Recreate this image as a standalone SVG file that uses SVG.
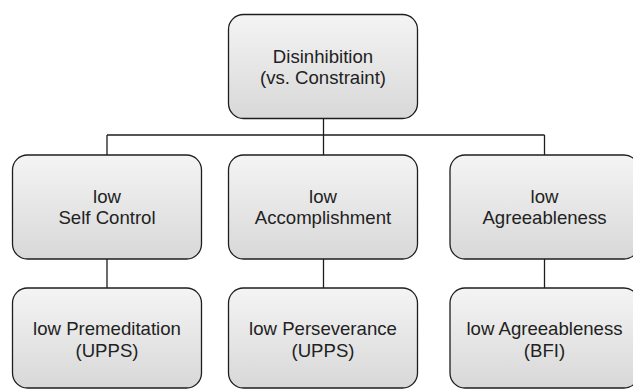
<svg xmlns="http://www.w3.org/2000/svg" width="633" height="389" viewBox="0 0 633 389">
<style>
.box{fill:url(#g);stroke:#1e1e1e;stroke-width:1.3}
.t{font-family:"Liberation Sans",Arial,sans-serif;font-size:18.6px;fill:#222;text-anchor:middle}
.c{fill:none;stroke:#1e1e1e;stroke-width:1.3}
</style>
<defs>
<linearGradient id="g" x1="0" y1="0" x2="0" y2="1">
<stop offset="0" stop-color="#f4f4f4"/>
<stop offset="1" stop-color="#d8d8d8"/>
</linearGradient>
</defs>
<rect width="633" height="389" fill="#fff"/>
<g id="connectors">
<path class="c" d="M323.5 118V135M107 135H544.5M107 135V155M323.5 135V155M544.5 135V155"/>
<path class="c" d="M107 259V288M323.5 259V288M544.5 259V288"/>
</g>
<g id="n-root">
<rect class="box" x="228.5" y="14.5" width="189" height="104" rx="15"/>
<text class="t" x="323" y="63">Disinhibition</text>
<text class="t" x="323" y="84">(vs. Constraint)</text>
</g>
<g id="n-selfcontrol">
<rect class="box" x="12.5" y="155" width="189" height="104" rx="15"/>
<text class="t" x="107" y="203">low</text>
<text class="t" x="107" y="224">Self Control</text>
</g>
<g id="n-accomplishment">
<rect class="box" x="228.5" y="155" width="189" height="104" rx="15"/>
<text class="t" x="323" y="203">low</text>
<text class="t" x="323" y="224">Accomplishment</text>
</g>
<g id="n-agreeableness">
<rect class="box" x="450" y="155" width="189" height="104" rx="15"/>
<text class="t" x="544.5" y="203">low</text>
<text class="t" x="544.5" y="224">Agreeableness</text>
</g>
<g id="n-premeditation">
<rect class="box" x="12.5" y="288" width="189" height="100" rx="15"/>
<text class="t" x="107" y="335">low Premeditation</text>
<text class="t" x="107" y="357">(UPPS)</text>
</g>
<g id="n-perseverance">
<rect class="box" x="228.5" y="288" width="189" height="100" rx="15"/>
<text class="t" x="323" y="335">low Perseverance</text>
<text class="t" x="323" y="357">(UPPS)</text>
</g>
<g id="n-bfi">
<rect class="box" x="450" y="288" width="189" height="100" rx="15"/>
<text class="t" x="544.5" y="335">low Agreeableness</text>
<text class="t" x="544.5" y="357">(BFI)</text>
</g>
</svg>
